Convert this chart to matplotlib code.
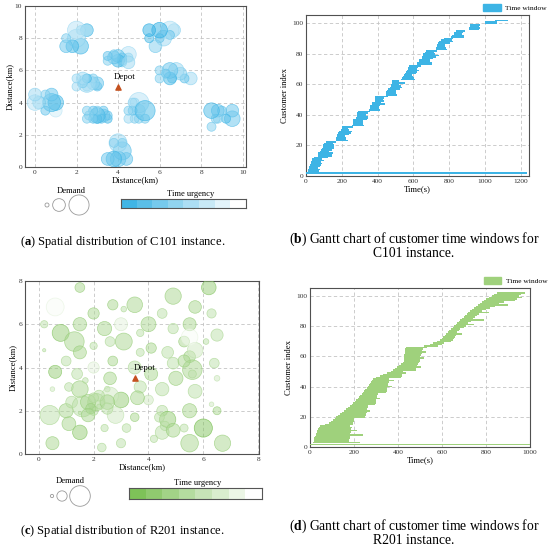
import numpy as np
import matplotlib
matplotlib.use("Agg")
import matplotlib.pyplot as plt
from matplotlib.colors import LinearSegmentedColormap, ListedColormap
from matplotlib.patches import Patch

plt.rcParams['font.family'] = ['Liberation Serif', 'DejaVu Serif']
plt.rcParams['mathtext.fontset'] = 'custom'
plt.rcParams['mathtext.rm'] = 'Liberation Serif'
plt.rcParams['mathtext.bf'] = 'Liberation Serif:bold'

# ---------------- C101 instance ----------------
# customer coordinates (km), demand and time-urgency level (0 = most urgent, 7 = least)
c101_depot = (4.0, 5.0)
c101_x = [4.5, 4.5, 4.2, 4.2, 4.2, 4.0, 4.0, 3.8, 3.8, 3.5,
          3.5, 2.5, 2.2, 2.2, 2.0, 2.0, 1.8, 1.5, 1.5, 3.0,
          3.0, 2.8, 2.8, 2.5, 2.5, 2.5, 2.3, 2.3, 2.0, 2.0,
          1.0, 1.0, 0.8, 0.8, 0.5, 0.5, 0.2, 0.0, 0.0, 3.5,
          3.5, 3.3, 3.3, 3.2, 3.0, 3.0, 3.0, 2.8, 2.8, 2.6,
          2.5, 2.5, 4.4, 4.2, 4.2, 4.0, 4.0, 3.8, 3.8, 3.5,
          5.0, 5.0, 5.0, 4.8, 4.8, 4.7, 4.7, 4.5, 4.5, 9.5,
          9.5, 5.3, 9.2, 5.3, 4.5, 9.0, 8.8, 8.8, 8.7, 8.5,
          8.5, 7.5, 7.2, 7.0, 6.8, 6.6, 6.5, 6.5, 6.3, 6.0,
          6.0, 6.7, 6.5, 6.5, 6.2, 6.0, 6.0, 5.8, 5.5, 5.5]
c101_y = [6.8, 7.0, 6.6, 6.8, 6.5, 6.9, 6.6, 6.8, 7.0, 6.6,
          6.9, 8.5, 7.5, 8.5, 8.0, 8.5, 7.5, 7.5, 8.0, 5.0,
          5.2, 5.2, 5.5, 5.0, 5.2, 5.5, 5.2, 5.5, 5.0, 5.5,
          3.5, 4.0, 4.0, 4.5, 3.5, 4.5, 4.0, 4.0, 4.5, 3.0,
          3.2, 3.2, 3.5, 3.0, 3.0, 3.2, 3.5, 3.0, 3.5, 3.2,
          3.0, 3.5, 0.5, 1.0, 1.5, 0.5, 1.5, 0.5, 1.5, 0.5,
          3.0, 3.5, 4.0, 3.0, 4.0, 3.5, 4.0, 3.0, 3.5, 3.0,
          3.5, 3.0, 3.0, 3.5, 6.5, 3.5, 3.0, 3.5, 3.0, 2.5,
          3.5, 5.5, 5.5, 5.8, 6.0, 5.5, 5.5, 6.0, 5.8, 5.5,
          6.0, 8.5, 8.5, 8.2, 8.0, 8.0, 8.5, 7.5, 8.0, 8.5]
c101_demand = [10, 30, 10, 10, 10, 20, 20, 20, 10, 10,
               10, 20, 30, 10, 40, 40, 20, 20, 10, 10,
               20, 20, 10, 10, 40, 10, 10, 20, 10, 10,
               20, 30, 40, 20, 10, 10, 20, 30, 20, 10,
               10, 20, 10, 10, 10, 30, 10, 10, 10, 10,
               10, 10, 20, 40, 10, 30, 40, 30, 10, 20,
               10, 20, 50, 10, 10, 10, 10, 10, 10, 30,
               20, 10, 10, 50, 20, 10, 10, 20, 10, 10,
               30, 20, 10, 20, 30, 10, 20, 30, 10, 10,
               10, 20, 40, 10, 30, 10, 30, 20, 10, 20]
c101_level = [3, 6, 2, 3, 4, 3, 2, 3, 4, 4,
              3, 2, 2, 4, 5, 6, 2, 3, 4, 3,
              3, 4, 4, 5, 5, 2, 4, 5, 5, 5,
              7, 2, 2, 3, 3, 4, 4, 6, 5, 2,
              3, 3, 3, 3, 2, 2, 4, 3, 3, 4,
              4, 4, 3, 3, 2, 3, 5, 2, 4, 3,
              4, 5, 6, 4, 5, 3, 5, 5, 4, 3,
              3, 4, 2, 2, 5, 3, 4, 3, 4, 4,
              2, 5, 3, 4, 5, 3, 2, 3, 3, 4,
              4, 5, 6, 3, 5, 3, 1, 4, 2, 1]
# time windows (s), customers sorted by ready time
c101_horizon = 1236
c101_ready = [10, 12, 15, 16, 20, 30, 30, 31, 35, 47,
              65, 65, 68, 76, 85, 87, 95, 95, 99, 109,
              166, 169, 170, 171, 173, 179, 186, 196, 200, 203,
              255, 261, 262, 264, 265, 278, 283, 285, 286, 293,
              353, 357, 358, 359, 368, 369, 383, 384, 385, 387,
              448, 448, 449, 450, 458, 471, 475, 475, 478, 479,
              531, 534, 541, 546, 555, 561, 562, 567, 567, 574,
              621, 622, 632, 632, 645, 647, 651, 652, 665, 668,
              725, 727, 732, 734, 737, 743, 751, 769, 812, 815,
              825, 826, 836, 912, 912, 914, 916, 997, 1001, 1054]
c101_due = [73, 77, 67, 80, 84, 92, 84, 100, 87, 124,
            146, 144, 149, 129, 144, 158, 158, 156, 148, 170,
            235, 224, 225, 218, 238, 254, 257, 239, 237, 260,
            324, 316, 317, 321, 338, 345, 344, 336, 347, 360,
            412, 410, 405, 412, 441, 420, 434, 429, 436, 456,
            509, 505, 504, 505, 523, 534, 528, 518, 551, 522,
            610, 605, 600, 593, 612, 622, 629, 620, 624, 643,
            702, 701, 693, 693, 708, 726, 740, 721, 716, 731,
            786, 782, 777, 777, 802, 820, 816, 820, 883, 880,
            870, 875, 889, 967, 969, 965, 969, 1068, 1066, 1127]

# ---------------- R201 instance ----------------
r201_depot = (3.5, 3.5)
r201_x = [4.1, 3.5, 5.5, 5.5, 1.5, 2.5, 2.0, 1.0, 5.5, 3.0,
          2.0, 5.0, 3.0, 1.5, 3.0, 1.0, 0.5, 2.0, 1.5, 4.5,
          4.5, 4.5, 5.5, 6.5, 6.5, 4.5, 3.5, 4.1, 6.4, 4.0,
          3.1, 3.5, 5.3, 6.5, 6.3, 0.2, 2.0, 0.5, 6.0, 4.0,
          4.2, 2.4, 2.3, 1.1, 0.6, 0.2, 0.8, 1.3, 0.6, 4.7,
          4.9, 2.7, 3.7, 5.7, 6.3, 5.3, 3.2, 3.6, 2.1, 1.7,
          1.2, 2.4, 2.7, 1.5, 6.2, 4.9, 6.7, 5.6, 3.7, 3.7,
          5.7, 4.7, 4.4, 4.6, 4.9, 4.9, 5.3, 6.1, 5.7, 5.6,
          5.5, 1.5, 1.4, 1.1, 1.6, 0.4, 2.8, 2.6, 2.6, 3.1,
          1.5, 2.2, 1.8, 2.6, 2.5, 2.2, 2.5, 1.9, 2.0, 1.8]
r201_y = [4.9, 1.7, 4.5, 2.0, 3.0, 3.0, 5.0, 4.3, 6.0, 6.0,
          6.5, 3.5, 2.5, 1.0, 0.5, 2.0, 3.0, 4.0, 6.0, 6.5,
          2.0, 1.0, 0.5, 3.5, 2.0, 3.0, 4.0, 3.7, 4.2, 6.0,
          5.2, 6.9, 5.2, 5.5, 6.5, 6.0, 2.0, 0.5, 1.2, 2.5,
          0.7, 1.2, 0.3, 1.4, 3.8, 4.8, 5.6, 5.2, 6.8, 4.7,
          5.8, 4.3, 3.1, 2.9, 2.3, 1.2, 1.2, 2.6, 2.4, 3.4,
          2.4, 5.8, 6.9, 7.7, 7.7, 7.3, 0.5, 3.9, 4.7, 5.6,
          6.8, 1.6, 1.7, 1.3, 1.1, 4.2, 4.3, 5.2, 4.8, 3.7,
          5.4, 4.7, 3.7, 3.1, 2.2, 1.8, 1.8, 5.2, 3.5, 6.7,
          1.9, 2.2, 2.4, 2.7, 2.4, 2.7, 2.1, 2.1, 2.6, 1.8]
r201_demand = [10, 7, 13, 19, 26, 3, 5, 9, 16, 16,
               12, 19, 23, 20, 8, 19, 2, 12, 17, 9,
               11, 18, 29, 3, 6, 17, 16, 16, 9, 21,
               27, 23, 11, 14, 8, 5, 8, 16, 31, 9,
               5, 5, 7, 18, 16, 1, 27, 36, 30, 13,
               10, 9, 14, 18, 2, 6, 7, 18, 28, 3,
               13, 19, 10, 9, 20, 25, 25, 36, 6, 5,
               15, 25, 9, 8, 18, 13, 14, 3, 23, 6,
               26, 16, 11, 7, 41, 35, 26, 9, 15, 3,
               1, 2, 22, 27, 20, 11, 12, 10, 9, 17]
r201_level = [3, 3, 3, 3, 3, 4, 4, 4, 3, 6,
              3, 3, 2, 2, 4, 3, 5, 6, 3, 4,
              4, 4, 3, 5, 3, 4, 4, 3, 4, 3,
              3, 3, 3, 4, 4, 4, 4, 3, 1, 5,
              4, 4, 4, 3, 2, 4, 2, 3, 7, 4,
              4, 3, 4, 4, 5, 4, 4, 3, 3, 4,
              4, 3, 3, 3, 2, 3, 3, 3, 4, 4,
              3, 2, 4, 4, 3, 4, 3, 4, 5, 4,
              7, 3, 4, 4, 4, 4, 5, 4, 3, 4,
              4, 4, 3, 5, 3, 4, 4, 3, 4, 3]
r201_horizon = 1000
r201_ready = [14, 16, 18, 20, 22, 25, 28, 30, 33, 36, 40, 44,
              70, 85, 95, 105, 115,
              120, 128, 137, 146, 155, 164, 172, 182,
              190, 196, 203, 210, 216, 222, 229, 236,
              241, 246, 252, 257, 262, 267, 272, 277, 282, 288,
              300, 318, 334, 350, 366,
              376, 386, 396, 405, 414, 424,
              425, 426, 427, 428, 429, 430, 431, 432, 434, 436,
              520, 545, 560, 575, 590, 600, 605, 612, 618, 625,
              632, 640, 648, 655, 662, 668, 675, 682, 690, 698,
              705, 712, 720, 728, 737, 746, 755, 764, 772, 780,
              790, 800, 812, 825, 838, 850]
r201_due = [228, 176, 178, 180, 182, 242, 184, 186, 212, 188, 190, 182,
            195, 196, 198, 199, 200,
            252, 254, 256, 258, 272, 260, 262, 264,
            296, 298, 300, 302, 318, 304, 306, 308,
            345, 348, 350, 352, 372, 354, 356, 358, 380, 360,
            412, 416, 420, 438, 424,
            480, 484, 506, 488, 492, 496,
            498, 500, 520, 502, 504, 508, 526, 510, 512, 530,
            580, 600, 610, 640, 650, 655, 660, 665, 690, 670,
            675, 680, 700, 710, 745, 720, 730, 790, 740, 750,
            760, 770, 815, 780, 800, 820, 840, 900, 860, 880,
            930, 940, 965, 950, 960, 978]

BLUE = '#3db4e5'
GREEN = '#9fd17c'
blue_cmap = LinearSegmentedColormap.from_list('blue_u', ['#2aade3', '#ffffff'])
green_cmap = LinearSegmentedColormap.from_list('green_u', ['#6fbb45', '#ffffff'])

fig = plt.figure(figsize=(5.5, 5.53), dpi=100)


def px_axes(l, t, r, b):
    return fig.add_axes([l / 550, 1 - b / 553, (r - l) / 550, (b - t) / 553])


def style(ax):
    for s in ax.spines.values():
        s.set_color('#505050')
        s.set_linewidth(0.8)
    ax.tick_params(length=0, pad=2, labelsize=5.3, colors='#333333')
    ax.grid(True, ls=(0, (4, 3)), color='#c4c4c4', lw=0.6)
    ax.set_axisbelow(True)


def scatter_panel(ax, xs, ys, dem, lev, cmap, k, depot, depot_txt, shade, alpha):
    lev = np.asarray(lev) / 7 * shade
    face = cmap(lev)
    face[:, 3] = alpha
    edge = cmap(np.clip(lev - 0.12, 0, 1))
    edge[:, 3] = 0.75
    ax.scatter(xs, ys, s=np.asarray(dem) * k, c=face, edgecolors=edge, linewidths=0.5, zorder=3)
    ax.scatter([depot[0]], [depot[1]], marker='^', s=14, color='#c4511f', zorder=4)
    ax.text(depot_txt[0], depot_txt[1], 'Depot', fontsize=6.4, ha='center', va='center', zorder=5)
    ax.set_xlabel('Distance(km)', fontsize=6.2, labelpad=1)
    ax.set_ylabel('Distance(km)', fontsize=6.2, labelpad=1)
    style(ax)


def gantt_panel(ax, ready, due, horizon, color):
    ready = np.asarray(ready, dtype=float)
    due = np.asarray(due, dtype=float)
    # one row per customer (sorted by ready time), drawn as a single stepped band
    rows = np.arange(1, len(ready) + 1) + 2
    y_edges = np.append(rows - 0.5, rows[-1] + 0.5)
    ax.fill_betweenx(y_edges, np.append(ready, ready[-1]), np.append(due, due[-1]),
                     step='post', color=color, linewidth=0, zorder=3)
    ax.barh([1.8], [horizon], left=[0], height=0.9, color=color, linewidth=0, zorder=3)
    ax.set_xlabel('Time(s)', fontsize=6.2, labelpad=1)
    ax.set_ylabel('Customer index', fontsize=6.2, labelpad=2)
    style(ax)
    ax.set_yticks([0, 20, 40, 60, 80, 100])
    ax.legend(handles=[Patch(color=color, label='Time window')], loc='lower right',
              bbox_to_anchor=(1.08, 1.025), frameon=False, fontsize=5.4, borderaxespad=0,
              borderpad=0, handlelength=2.3, handleheight=1.1, handletextpad=0.6)


# (a) C101 spatial
ax_a = px_axes(25, 6, 246, 167)
scatter_panel(ax_a, c101_x, c101_y, c101_demand, c101_level, blue_cmap, 4.2,
              c101_depot, (4.3, 5.6), 0.8, 0.55)
ax_a.set_xlim(-0.48, 10.16)
ax_a.set_ylim(0, 10)
ax_a.set_xticks([0, 2, 4, 6, 8, 10])
ax_a.set_yticks([0, 2, 4, 6, 8, 10])

# (b) C101 gantt
ax_b = px_axes(306, 15, 529, 176)
gantt_panel(ax_b, c101_ready, c101_due, c101_horizon, BLUE)
ax_b.set_xlim(0, 1245)
ax_b.set_ylim(-0.2, 105.5)

# (c) R201 spatial
ax_c = px_axes(25, 281, 259, 454)
scatter_panel(ax_c, r201_x, r201_y, r201_demand, r201_level, green_cmap, 5.5,
              r201_depot, (3.87, 4.0), 0.95, 0.5)
ax_c.set_xlim(-0.5, 8.03)
ax_c.set_ylim(0, 8)
ax_c.set_xticks([0, 2, 4, 6, 8])
ax_c.set_yticks([0, 2, 4, 6, 8])

# (d) R201 gantt
ax_d = px_axes(310, 288, 530, 447)
gantt_panel(ax_d, r201_ready, r201_due, r201_horizon, GREEN)
ax_d.set_xlim(0, 1000)
ax_d.set_ylim(0, 105.3)


# colour bars for time urgency
def urgency_bar(l, t, r, b, cmap):
    cax = px_axes(l, t, r, b)
    cols = cmap(np.arange(8) / 7)
    cax.imshow(np.arange(8)[None, :], cmap=ListedColormap(cols), aspect='auto', alpha=0.9)
    cax.set_xticks([])
    cax.set_yticks([])
    for s in cax.spines.values():
        s.set_color('#555555')
        s.set_linewidth(0.8)


urgency_bar(121, 199, 246, 208, blue_cmap)
urgency_bar(129, 488, 262, 499, green_cmap)

# overlay in pixel coordinates for legends and captions
ov = fig.add_axes([0, 0, 1, 1], zorder=10)
ov.set_xlim(0, 550)
ov.set_ylim(553, 0)
ov.axis('off')

ov.text(191, 194, 'Time urgency', fontsize=6.1, ha='center', va='center')
ov.text(198, 483, 'Time urgency', fontsize=6.1, ha='center', va='center')
ov.text(71, 191, 'Demand', fontsize=6.2, ha='center', va='center')
ov.text(70, 481, 'Demand', fontsize=6.2, ha='center', va='center')

legend_demand_a = [2, 20, 50]
legend_demand_c = [1, 10, 40]
ov.scatter([47, 59, 79], [205, 205, 205], s=np.asarray(legend_demand_a) * 4.2,
           facecolors='none', edgecolors='#9a9a9a', linewidths=0.6)
ov.scatter([52, 62, 80], [496, 496, 496], s=np.asarray(legend_demand_c) * 5.5,
           facecolors='none', edgecolors='#9a9a9a', linewidths=0.6)


def caption(x, y, letter, rest, fs):
    ov.text(x, y, '($\\mathbf{' + letter + '}$)' + rest, fontsize=fs,
            ha='left', va='baseline')


caption(20, 245, 'a', ' Spatial distribution of C101 instance.', 9.0)
caption(289, 243, 'b', ' Gantt chart of customer time windows for', 9.8)
ov.text(414, 257, 'C101 instance.', fontsize=9.8, ha='center', va='baseline')
caption(20, 534, 'c', ' Spatial distribution of R201 instance.', 9.0)
caption(289, 530, 'd', ' Gantt chart of customer time windows for', 9.8)
ov.text(414, 544, 'R201 instance.', fontsize=9.8, ha='center', va='baseline')

fig.savefig('out.png', dpi=100)
